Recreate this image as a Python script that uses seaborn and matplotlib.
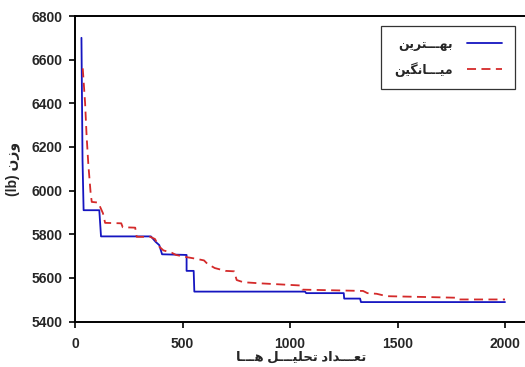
import numpy as np
import pandas as pd
import matplotlib
matplotlib.use('Agg')
import matplotlib.pyplot as plt
import seaborn as sns

# data (evaluations vs weight in lb)
best_x = [30, 35, 40, 113, 121, 353, 375, 392, 405, 519, 519, 552, 555,
          1070, 1075, 1250, 1252, 1326, 1330, 2000]
best_y = [6700, 6140, 5910, 5910, 5790, 5790, 5765, 5750, 5708, 5705, 5632, 5632, 5537,
          5537, 5530, 5530, 5505, 5505, 5489, 5489]

mean_x = [36, 47, 54, 62, 73, 78, 108, 130, 140, 215, 222, 280, 287, 350, 372, 390,
          411, 450, 470, 519, 560, 600, 615, 650, 700, 740, 752, 783, 860, 1050,
          1058, 1340, 1360, 1403, 1450, 1640, 1770, 1778, 2000]
mean_y = [6560, 6400, 6250, 6120, 5985, 5948, 5945, 5896, 5852, 5850, 5832, 5830, 5788, 5788,
          5778, 5745, 5726, 5715, 5705, 5695, 5688, 5680, 5665, 5645, 5632, 5630, 5590, 5580, 5575,
          5565, 5546, 5540, 5530, 5527, 5516, 5512, 5509, 5501, 5501]

x_ticks = [0, 500, 1000, 1500, 2000]
y_ticks = [5400, 5600, 5800, 6000, 6200, 6400, 6600, 6800]

label_best = 'بهـــترین'
label_mean = 'میـــانگین'
x_title = 'تعـــداد تحلیـــل هـــا'
y_title = 'وزن'

# matplotlib has no arabic shaping, so pick the joined glyph forms by hand
FORMS = {  # iso, fin, ini, med
    'ا': ('\uFE8D', '\uFE8E', None, None),
    'ب': ('\uFE8F', '\uFE90', '\uFE91', '\uFE92'),
    'ت': ('\uFE95', '\uFE96', '\uFE97', '\uFE98'),
    'ح': ('\uFEA1', '\uFEA2', '\uFEA3', '\uFEA4'),
    'د': ('\uFEA9', '\uFEAA', None, None),
    'ر': ('\uFEAD', '\uFEAE', None, None),
    'ز': ('\uFEAF', '\uFEB0', None, None),
    'ع': ('\uFEC9', '\uFECA', '\uFECB', '\uFECC'),
    'ل': ('\uFEDD', '\uFEDE', '\uFEDF', '\uFEE0'),
    'م': ('\uFEE1', '\uFEE2', '\uFEE3', '\uFEE4'),
    'ن': ('\uFEE5', '\uFEE6', '\uFEE7', '\uFEE8'),
    'ه': ('\uFEE9', '\uFEEA', '\uFEEB', '\uFEEC'),
    'و': ('\uFEED', '\uFEEE', None, None),
    'ی': ('\uFEEF', '\uFEF0', '\uFEF3', '\uFEF4'),
    'گ': ('\uFB92', '\uFB93', '\uFB94', '\uFB95'),
}
TATWEEL = 'ـ'


def dual(c):
    return c == TATWEEL or (c in FORMS and FORMS[c][2] is not None)


def joins(c):
    return c == TATWEEL or c in FORMS


def shape(s):
    out = []
    for i, c in enumerate(s):
        if c not in FORMS:
            out.append(c)
            continue
        prev_ok = i > 0 and dual(s[i - 1])
        next_ok = i + 1 < len(s) and joins(s[i + 1]) and dual(c)
        iso, fin, ini, med = FORMS[c]
        if prev_ok and next_ok:
            out.append(med)
        elif prev_ok:
            out.append(fin)
        elif next_ok:
            out.append(ini)
        else:
            out.append(iso)
    return ''.join(out)[::-1]


sns.set_style('ticks')
plt.rcParams['font.family'] = ['Liberation Sans', 'DejaVu Sans']
plt.rcParams['font.weight'] = 'bold'

fig = plt.figure(figsize=(5.25, 3.67), dpi=100)
ax = fig.add_axes([75 / 525, 1 - 321.5 / 367, 451.5 / 525, 305.5 / 367])

sns.lineplot(x=best_x, y=best_y, ax=ax, sort=False, estimator=None,
             color='#1515c0', lw=1.3, label=shape(label_best))
sns.lineplot(x=mean_x, y=mean_y, ax=ax, sort=False, estimator=None,
             color='#d42a2a', lw=1.3, linestyle=(0, (5, 3)), label=shape(label_mean))

ax.set_xlim(0, 2100)
ax.set_ylim(5400, 6800)
ax.set_xticks(x_ticks)
ax.set_yticks(y_ticks)
ax.tick_params(axis='both', labelsize=10, length=4, width=1.2, direction='out', color='black')
ax.tick_params(axis='x', pad=7)
ax.tick_params(axis='y', pad=5)
for lab in ax.get_xticklabels() + ax.get_yticklabels():
    lab.set_fontweight('bold')
for sp in ax.spines.values():
    sp.set_color('black')
    sp.set_linewidth(1.4)

ax.set_xlabel(shape(x_title), fontsize=9.5, fontweight='bold', labelpad=0)
ax.set_ylabel('(lb) ' + shape(y_title), fontsize=10, fontweight='bold', labelpad=8)

leg = ax.legend(loc='upper right', bbox_to_anchor=(0.9745, 0.967), borderaxespad=0,
                markerfirst=False, fancybox=False, edgecolor='#333333', framealpha=1,
                fontsize=9, handlelength=2.8, labelspacing=0.9, borderpad=1.0,
                handletextpad=1.2)
leg.get_frame().set_linewidth(0.9)

fig.savefig('out.png', dpi=100)
